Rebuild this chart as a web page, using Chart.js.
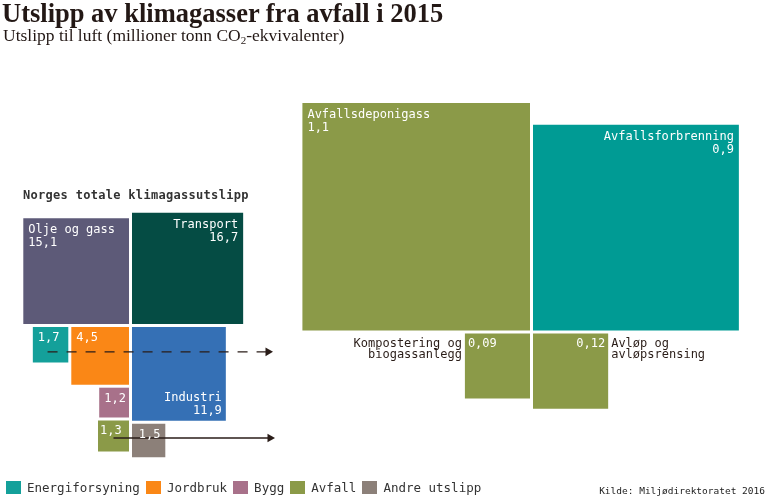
<!DOCTYPE html>
<html>
<head>
<meta charset="utf-8">
<script src="https://cdn.jsdelivr.net/npm/chart.js@4.4.0/dist/chart.umd.min.js"></script>
<style>
  html, body { margin: 0; padding: 0; background: #fff; }
  #wrap { position: relative; width: 769px; height: 500px; overflow: hidden; }
  #chart { position: absolute; left: 0; top: 0; }
  .title { position: absolute; left: 2px; top: 0; font: bold 26.5px "Liberation Serif", serif; line-height: 27px; color: #231815; white-space: nowrap; }
  .subtitle { position: absolute; left: 3px; top: 27px; font: 17.5px "Liberation Serif", serif; line-height: 17px; color: #231815; white-space: nowrap; }
  .subtitle sub { font-size: 11px; vertical-align: -3px; line-height: 0; }
  .heading { position: absolute; left: 23px; top: 189px; font: bold 12px "DejaVu Sans Mono", monospace; letter-spacing: 0.3px; line-height: 12px; color: #333; white-space: nowrap; }
  #legend { position: absolute; left: 6px; top: 481px; display: flex; font: 12.5px "DejaVu Sans Mono", monospace; line-height: 13px; color: #333; white-space: nowrap; }
  #legend .item { display: flex; align-items: center; margin-right: 6px; }
  #legend i { display: inline-block; width: 15px; height: 13px; margin-right: 6px; }
  .source { position: absolute; right: 4px; top: 486px; font: 9.5px "DejaVu Sans Mono", monospace; line-height: 10px; color: #222; white-space: nowrap; }
</style>
</head>
<body>
<div id="wrap">
  <canvas id="chart" width="769" height="500"></canvas>
  <div class="title">Utslipp av klimagasser fra avfall i 2015</div>
  <div class="subtitle">Utslipp til luft (millioner tonn CO<sub>2</sub>-ekvivalenter)</div>
  <div class="heading">Norges totale klimagassutslipp</div>
  <div id="legend"></div>
  <div class="source">Kilde: Miljødirektoratet 2016</div>
</div>
<script>
// Norges totale klimagassutslipp (mill. tonn CO2-ekv.)
const norgesLabels = ['Olje og gass', 'Transport', 'Energiforsyning', 'Jordbruk', 'Industri', 'Bygg', 'Avfall', 'Andre utslipp'];
const norgesValues = [15.1, 16.7, 1.7, 4.5, 11.9, 1.2, 1.3, 1.5];
const norgesColors = ['#5d5a78', '#054c44', '#14a09a', '#fa8716', '#3570b5', '#a8718a', '#8b9a48', '#8c8079'];

// Utslipp fra avfall
const avfallLabels = ['Avfallsdeponigass', 'Avfallsforbrenning', ['Kompostering og', 'biogassanlegg'], ['Avløp og', 'avløpsrensing']];
const avfallValues = [1.1, 0.9, 0.09, 0.12];
const avfallColors = ['#8b9a48', '#009b94', '#8b9a48', '#8b9a48'];

const legendLabels = ['Energiforsyning', 'Jordbruk', 'Bygg', 'Avfall', 'Andre utslipp'];

// layout
const GAP = 3;
const LEFT_K = 27.2, LEFT_C = [130.5, 325.5];
const RIGHT_K = 217, RIGHT_C = [531.5, 332];
const ARROW_END = 268;
const INK = '#2a1d18';

function box(x, y, s, hor, ver) {
  const x0 = hor === 'left' ? x - s : x;
  const y0 = ver === 'up' ? y - s : y;
  return { x0, y0, x1: x0 + s, y1: y0 + s, s };
}

function layoutNorges() {
  const s = norgesValues.map(v => LEFT_K * Math.sqrt(v));
  const [cx, cy] = LEFT_C, h = GAP / 2;
  const b = [];
  b[0] = box(cx - h, cy - h, s[0], 'left', 'up');
  b[1] = box(cx + h, cy - h, s[1], 'right', 'up');
  b[3] = box(cx - h, cy + h, s[3], 'left', 'down');
  b[4] = box(cx + h, cy + h, s[4], 'right', 'down');
  b[2] = box(b[3].x0 - GAP, cy + h, s[2], 'left', 'down');
  b[5] = box(cx - h, b[3].y1 + GAP, s[5], 'left', 'down');
  b[6] = box(cx - h, b[5].y1 + GAP, s[6], 'left', 'down');
  b[7] = box(cx + h, b[4].y1 + GAP, s[7], 'right', 'down');
  return b;
}

function layoutAvfall() {
  const s = avfallValues.map(v => RIGHT_K * Math.sqrt(v));
  const [cx, cy] = RIGHT_C, h = GAP / 2;
  return [
    box(cx - h, cy - h, s[0], 'left', 'up'),
    box(cx + h, cy - h, s[1], 'right', 'up'),
    box(cx - h, cy + h, s[2], 'left', 'down'),
    box(cx + h, cy + h, s[3], 'right', 'down')
  ];
}

const nBoxes = layoutNorges();
const aBoxes = layoutAvfall();

const toBubble = b => ({ x: (b.x0 + b.x1) / 2, y: (b.y0 + b.y1) / 2, r: b.s / Math.SQRT2 });

const energi = nBoxes[2], avfall = nBoxes[6];
const dashedArrow = [
  { x: (energi.x0 + energi.x1) / 2 - 3, y: energi.y0 + energi.s * 0.7 },
  { x: ARROW_END, y: energi.y0 + energi.s * 0.7 }
];
const solidArrow = [
  { x: (avfall.x0 + avfall.x1) / 2, y: (avfall.y0 + avfall.y1) / 2 + 2 },
  { x: ARROW_END + 2, y: (avfall.y0 + avfall.y1) / 2 + 2 }
];

// label placement per square
const norgesPlace = [
  { pos: 'tl', name: true }, { pos: 'tr', name: true }, { pos: 'tl' }, { pos: 'tl' },
  { pos: 'br', name: true }, { pos: 'tc' }, { pos: 'tl', pad: 2 }, { pos: 'tc' }
];
const avfallPlace = [
  { pos: 'tl', name: true }, { pos: 'tr', name: true }, { pos: 'tl', out: 'left' }, { pos: 'tr', out: 'right' }
];

const fmt = v => String(v).replace('.', ',');

const boxLabels = {
  id: 'boxLabels',
  afterDatasetsDraw(chart) {
    const ctx = chart.ctx;
    const groups = [
      { meta: chart.getDatasetMeta(2), labels: norgesLabels, values: norgesValues, place: norgesPlace },
      { meta: chart.getDatasetMeta(3), labels: avfallLabels, values: avfallValues, place: avfallPlace }
    ];
    ctx.save();
    ctx.font = '12px "DejaVu Sans Mono", monospace';
    ctx.textBaseline = 'alphabetic';
    groups.forEach(g => {
      g.meta.data.forEach((el, i) => {
        const s = el.options.radius * Math.SQRT2;
        const x0 = el.x - s / 2, y0 = el.y - s / 2, x1 = x0 + s, y1 = y0 + s;
        const p = g.place[i];
        const pad = p.pad != null ? p.pad : 5;
        const lines = p.name ? [g.labels[i], fmt(g.values[i])] : [fmt(g.values[i])];
        const big = s > 60;
        let x, y, lh = 13;
        ctx.fillStyle = '#fff';
        if (p.pos === 'tl') { ctx.textAlign = 'left'; x = x0 + pad; y = y0 + (big ? 15 : 14); }
        if (p.pos === 'tr') { ctx.textAlign = 'right'; x = x1 - pad; y = y0 + (big ? 15 : 14); }
        if (p.pos === 'tc') { ctx.textAlign = 'center'; x = (x0 + x1) / 2 + 1; y = y0 + 14; }
        if (p.pos === 'br') { ctx.textAlign = 'right'; x = x1 - 4; y = y1 - 7 - lh * (lines.length - 1); }
        if (p.out) { y = y0 + 13; x = p.out === 'left' ? x0 + 3 : x1 - 3; }
        lines.forEach((t, k) => ctx.fillText(t, x, y + k * lh));
        if (p.out) {
          const name = [].concat(g.labels[i]);
          ctx.fillStyle = INK;
          ctx.textAlign = p.out === 'left' ? 'right' : 'left';
          const nx = p.out === 'left' ? x0 - 3 : x1 + 3;
          name.forEach((t, k) => ctx.fillText(t, nx, y0 + 13 + k * 11));
        }
      });
    });
    ctx.restore();
  }
};

// legend
const legendEl = document.getElementById('legend');
legendLabels.forEach(l => {
  const c = norgesColors[norgesLabels.indexOf(l)];
  const item = document.createElement('span');
  item.className = 'item';
  item.innerHTML = `<i style="background:${c}"></i>${l}`;
  legendEl.appendChild(item);
});

new Chart(document.getElementById('chart'), {
  type: 'bubble',
  data: {
    datasets: [
      {
        type: 'line', data: dashedArrow, borderColor: INK, borderWidth: 1.3, borderDash: [10, 9],
        pointRadius: [0, 5], pointStyle: 'triangle', pointRotation: 90,
        pointBackgroundColor: INK, pointBorderWidth: 0, fill: false
      },
      {
        type: 'line', data: solidArrow, borderColor: INK, borderWidth: 1.3,
        pointRadius: [0, 5], pointStyle: 'triangle', pointRotation: 90,
        pointBackgroundColor: INK, pointBorderWidth: 0, fill: false
      },
      {
        label: 'Norge', data: nBoxes.map(toBubble), pointStyle: 'rect',
        backgroundColor: norgesColors, borderWidth: 0, clip: false
      },
      {
        label: 'Avfall', data: aBoxes.map(toBubble), pointStyle: 'rect',
        backgroundColor: avfallColors, borderWidth: 0, clip: false
      }
    ]
  },
  options: {
    responsive: false,
    animation: false,
    events: [],
    layout: { padding: 0, autoPadding: false },
    plugins: { legend: { display: false }, tooltip: { enabled: false } },
    scales: {
      x: { type: 'linear', min: 0, max: 769, display: false },
      y: { type: 'linear', min: 0, max: 500, reverse: true, display: false }
    }
  },
  plugins: [boxLabels]
});
</script>
</body>
</html>
